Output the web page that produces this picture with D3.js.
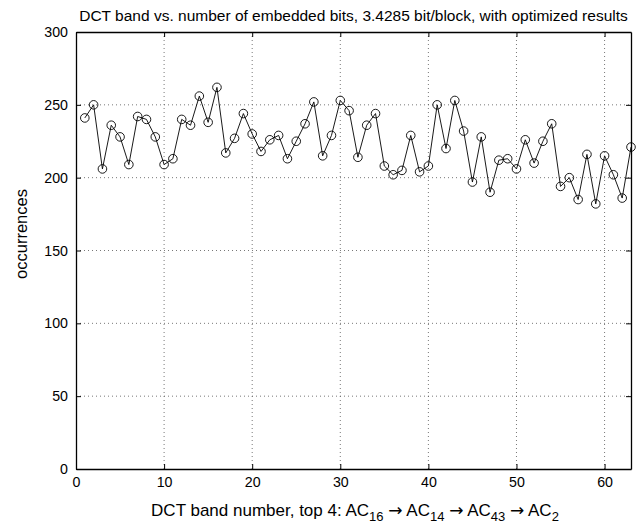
<!DOCTYPE html>
<html>
<head>
<meta charset="utf-8">
<script src="https://cdn.jsdelivr.net/npm/d3@7"></script>
<style>
  body { margin: 0; background: #fff; }
  svg { display: block; font-family: "Liberation Sans", Arial, sans-serif; }
</style>
</head>
<body>
<svg id="chart" width="638" height="526"></svg>
<script>
// DCT band index 1..63 and how often each band carried an embedded bit
let bands = d3.range(1, 64);
let occurrences = [
    241, 250, 206, 236, 228, 209, 242, 240, 228, 209,
    213, 240, 236, 256, 238, 262, 217, 227, 244, 230,
    218, 226, 229, 213, 225, 237, 252, 215, 229, 253,
    246, 214, 236, 244, 208, 202, 205, 229, 204, 208,
    250, 220, 253, 232, 197, 228, 190, 212, 213, 206,
    226, 210, 225, 237, 194, 200, 185, 216, 182, 215,
    202, 186, 221
];
let xTicks = [0, 10, 20, 30, 40, 50, 60];
let yTicks = [0, 50, 100, 150, 200, 250, 300];
let titleText = "DCT band vs. number of embedded bits, 3.4285 bit/block, with optimized results";
let yLabel = "occurrences";
let topBands = ["16", "14", "43", "2"];

let margin = {top: 32, right: 7, bottom: 57, left: 76};
let width = 638 - margin.left - margin.right;
let height = 526 - margin.top - margin.bottom;

let svg = d3.select("#chart");
let g = svg.append("g").attr("transform", "translate(" + margin.left + "," + margin.top + ")");

let x = d3.scaleLinear().domain([0, 63]).range([0, width]);
let y = d3.scaleLinear().domain([0, 300]).range([height, 0]);

// dotted grid
g.append("g").selectAll("line")
    .data(xTicks.filter(function(d) { return d > 0; }))
    .enter().append("line")
    .attr("x1", d => x(d)).attr("x2", d => x(d))
    .attr("y1", 0).attr("y2", height)
    .attr("stroke", "#555").attr("stroke-width", 0.8)
    .attr("stroke-dasharray", "1,3");
g.append("g").selectAll("line")
    .data(yTicks.filter(function(d) { return d > 0 && d < 300; }))
    .enter().append("line")
    .attr("x1", 0).attr("x2", width)
    .attr("y1", d => y(d)).attr("y2", d => y(d))
    .attr("stroke", "#555").attr("stroke-width", 0.8)
    .attr("stroke-dasharray", "1,3");

// axes with inward ticks, box style
let fontSize = "14.2px";
let bottomAxis = g.append("g").attr("transform", "translate(0," + height + ")")
    .call(d3.axisBottom(x).tickValues(xTicks).tickSizeInner(-5).tickSizeOuter(0).tickPadding(9));
let leftAxis = g.append("g")
    .call(d3.axisLeft(y).tickValues(yTicks).tickSizeInner(-5).tickSizeOuter(0).tickPadding(10));
let topAxis = g.append("g")
    .call(d3.axisTop(x).tickValues(xTicks).tickSizeInner(-5).tickSizeOuter(0).tickFormat(""));
let rightAxis = g.append("g").attr("transform", "translate(" + width + ",0)")
    .call(d3.axisRight(y).tickValues(yTicks).tickSizeInner(-5).tickSizeOuter(0).tickFormat(""));

[bottomAxis, leftAxis, topAxis, rightAxis].forEach(function(a) {
    a.select(".domain").attr("stroke", "#000").attr("stroke-width", 1.3);
    a.selectAll(".tick line").attr("stroke", "#000").attr("stroke-width", 1);
    a.selectAll(".tick text").attr("fill", "#000").style("font-size", fontSize)
        .style("font-family", "'Liberation Sans', Arial, sans-serif");
});
bottomAxis.selectAll(".tick text").attr("dy", "0.6em");
leftAxis.selectAll(".tick text").attr("dx", "2");

// data line and circle markers
let line = d3.line()
    .x((d, i) => x(bands[i]))
    .y(d => y(d));

g.append("path")
    .datum(occurrences)
    .attr("fill", "none")
    .attr("stroke", "#000")
    .attr("stroke-width", 0.9)
    .attr("d", line);

g.append("g").selectAll("circle")
    .data(occurrences)
    .enter().append("circle")
    .attr("cx", (d, i) => x(bands[i]))
    .attr("cy", d => y(d))
    .attr("r", 4.3)
    .attr("fill", "none")
    .attr("stroke", "#000")
    .attr("stroke-width", 0.9);

// title
svg.append("text")
    .attr("x", margin.left + width / 2)
    .attr("y", 21)
    .attr("text-anchor", "middle")
    .style("font-size", "15.5px")
    .text(titleText);

// y label
svg.append("text")
    .attr("transform", "translate(27,234) rotate(-90)")
    .attr("text-anchor", "middle")
    .style("font-size", "16.5px")
    .text(yLabel);

// x label with subscripts, arrows drawn a bit wider like the symbol font
let xl = svg.append("text")
    .attr("x", 355)
    .attr("y", 516)
    .attr("text-anchor", "middle")
    .style("font-size", "17px");
topBands.forEach(function(b, i) {
    if (i === 0) {
        xl.append("tspan").text("DCT band number, top 4: AC");
    } else {
        xl.append("tspan").attr("dy", -5).text(" ");
        xl.append("tspan").style("font-family", "'DejaVu Sans', sans-serif").text("\u2192");
        xl.append("tspan").text(" AC");
    }
    xl.append("tspan").attr("dy", 5).style("font-size", "13px").text(b);
});
</script>
</body>
</html>
